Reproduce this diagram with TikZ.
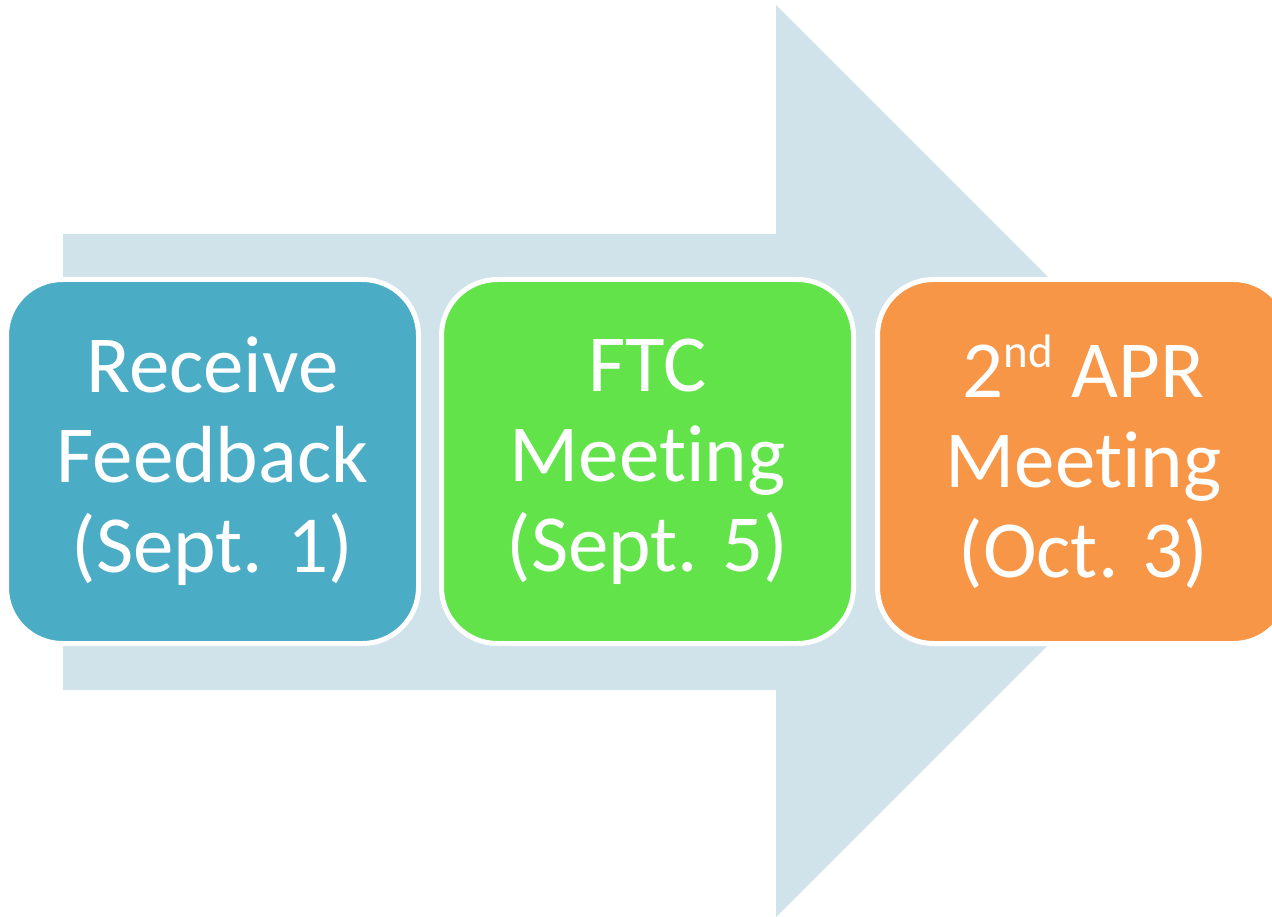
\documentclass[tikz,border=0pt]{standalone}
\usepackage{fontspec}
\setmainfont{Carlito}[RawFeature={-liga;-clig;-dlig}]
\definecolor{arrowbg}{HTML}{D1E3EA}
\definecolor{boxblue}{HTML}{4BACC6}
\definecolor{boxgreen}{HTML}{62E34A}
\definecolor{boxorange}{HTML}{F79646}
\newcommand{\supnd}[1]{\raisebox{30pt}{\fontsize{47}{50}\selectfont #1}}
\begin{document}
\begin{tikzpicture}[x=1pt,y=-1pt,
  stepbox/.style={rectangle, rounded corners=56pt, minimum width=412pt, minimum height=364pt,
    inner sep=0pt, draw=white, line width=5pt, text=white, align=center,
    font=\fontsize{81}{90}\selectfont}]
\useasboundingbox (0,0) rectangle (1272,917);
\clip (0,0) rectangle (1272,917);
\fill[arrowbg] (63,234) -- (776,234) -- (776,5) -- (1232,461) -- (776,917) -- (776,690) -- (63,690) -- cycle;
\node[stepbox, fill=boxblue] (b1) at (212.5,461.5) {Receive\\Feedback\\(Sept. 1)};
\node[stepbox, fill=boxgreen] (b2) at (647.5,461.5) {FTC\\Meeting\\(Sept. 5)};
\node[stepbox, fill=boxorange] (b3) at (1083.5,461.5) {2\supnd{nd} APR\\Meeting\\(Oct. 3)};
\end{tikzpicture}
\end{document}
